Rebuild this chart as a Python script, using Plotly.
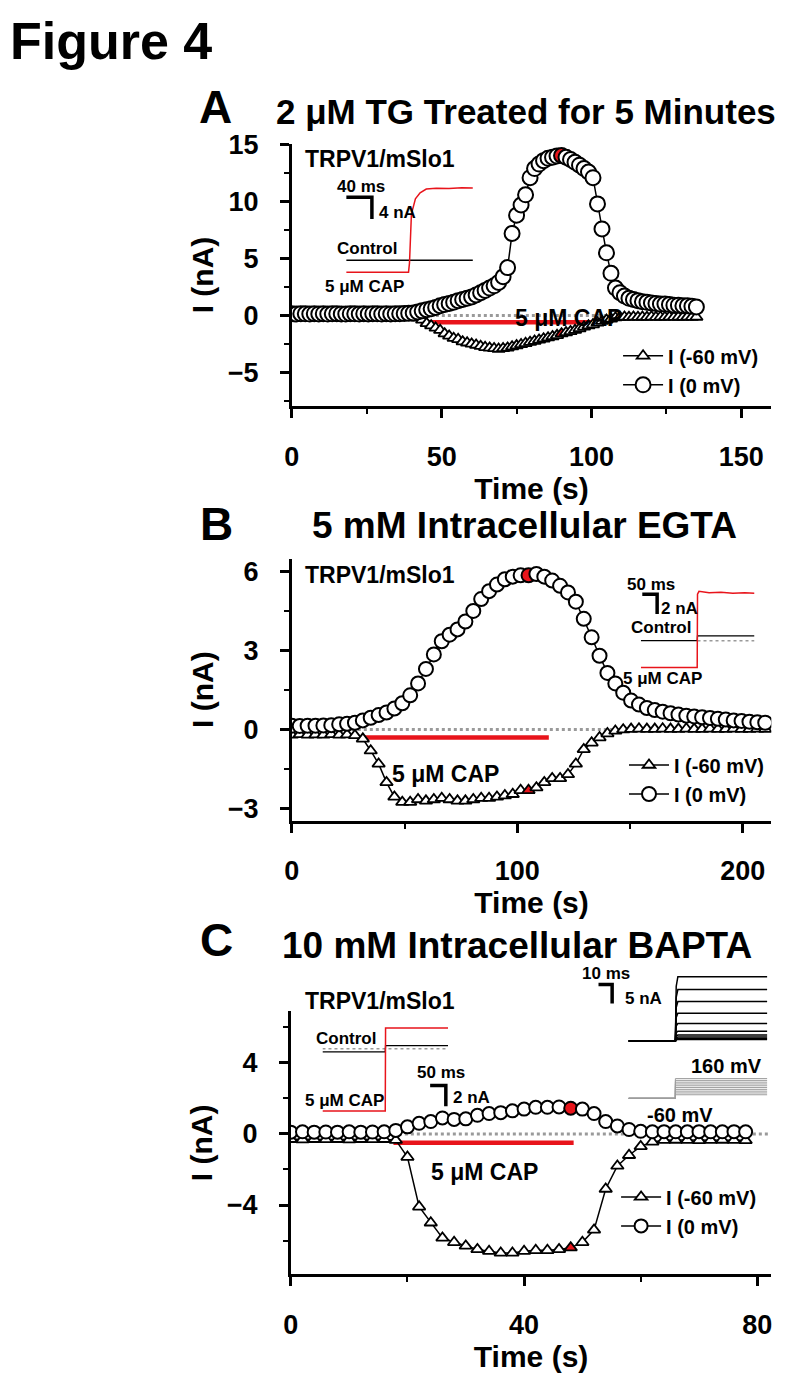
import plotly.graph_objects as go

W, H = 791, 1379
OFF = 8  # default page margin of the html body
FONT = "Liberation Sans, Arial, Helvetica, sans-serif"
RED = "#e8141b"
GRAY = "#9a9a9a"

# ---------------- Panel A : 2 uM TG treated for 5 minutes ----------------
A_T = [i * 1.5 for i in range(91)]
A_I0 = [0.15, 0.12, 0.15, 0.14, 0.12, 0.15, 0.13, 0.15, 0.12, 0.14, 0.15, 0.13, 0.12, 0.15,
        0.14, 0.12, 0.15, 0.13, 0.15, 0.14, 0.12, 0.15, 0.13, 0.14, 0.15, 0.16, 0.18,
        0.22, 0.3, 0.4, 0.5, 0.58, 0.7, 0.85, 0.95, 1.05, 1.15, 1.3, 1.4, 1.5, 1.62, 1.8,
        2.0, 2.2, 2.4, 2.6, 2.9, 3.4, 4.2, 7.2, 8.8, 9.7, 10.6, 12.1, 12.9, 13.3, 13.6,
        13.8, 13.9, 14.0, 14.05, 13.9, 13.7, 13.45, 13.2, 12.9, 12.6, 12.1, 9.8, 7.6, 5.5,
        3.7, 2.4, 2.0, 1.7, 1.5, 1.4, 1.3, 1.2, 1.15, 1.1, 1.05, 1.0, 1.0, 0.95, 0.9, 0.9,
        0.85, 0.85, 0.8, 0.75]
A_IN60 = [-0.15, -0.12, -0.15, -0.14, -0.15, -0.13, -0.15, -0.12, -0.15, -0.14, -0.15, -0.13,
          -0.15, -0.12, -0.15, -0.14, -0.15, -0.13, -0.15, -0.12, -0.15, -0.14, -0.15, -0.13,
          -0.15, -0.14, -0.15, -0.17,
          -0.22, -0.4, -0.7, -0.9, -1.1, -1.3, -1.6, -1.8, -2.0, -2.1, -2.3, -2.4, -2.5, -2.6,
          -2.7, -2.8, -2.85, -2.9, -2.95, -2.9, -2.85, -2.75, -2.65, -2.55, -2.45, -2.35, -2.25,
          -2.15, -2.05, -1.95, -1.85, -1.75, -1.6, -1.5, -1.4, -1.3, -1.15, -1.0, -0.9, -0.8,
          -0.65, -0.5, -0.4, -0.3, -0.2,
          -0.15, -0.14, -0.15, -0.13, -0.15, -0.14, -0.15, -0.12, -0.15, -0.14, -0.15, -0.13,
          -0.15, -0.14, -0.15, -0.13, -0.15, -0.14]
A_RED_INDEX = 60
A_CAP_T = [43, 103]
A_CAP_I = [-0.6, -0.6]
A_ZERO_T = [0, 136]

# inset A (time in ms, current in nA)
A_CTRL_T = [0, 197]
A_CTRL_I = [0, 0]
A_CAPTR_T = [0, 30, 60, 97, 98.5, 101.5, 107.7, 115, 124.6, 140, 160, 180, 197]
A_CAPTR_I = [-2.2, -2.15, -2.2, -2.2, -0.5, 8.5, 11.3, 12.4, 13.1, 13.25, 13.2, 13.35, 13.3]
A_BAR_T = [0, 40, 40]
A_BAR_I = [11.6, 11.6, 7.6]

# ---------------- Panel B : 5 mM intracellular EGTA ----------------
B_T = [i * 3.5 for i in range(61)]
B_I0 = [0.15, 0.14, 0.15, 0.15, 0.16, 0.17, 0.2, 0.22, 0.26, 0.35, 0.45, 0.55, 0.65, 0.8, 1.0,
        1.3, 1.75, 2.3, 2.85, 3.35, 3.6, 3.8, 4.1, 4.5, 4.95, 5.25, 5.5, 5.7, 5.8, 5.85, 5.85,
        5.9, 5.8, 5.65, 5.45, 5.2, 4.85, 4.2, 3.5, 2.8, 2.15, 1.75, 1.4, 1.1, 0.95, 0.82, 0.74,
        0.68, 0.62, 0.57, 0.53, 0.5, 0.47, 0.44, 0.41, 0.38, 0.35, 0.33, 0.3, 0.28, 0.26]
B_IN60 = [-0.2, -0.18, -0.2, -0.19, -0.2, -0.18, -0.2, -0.19, -0.22,
          -0.35, -0.8, -1.3, -2.0, -2.55, -2.75, -2.75, -2.65, -2.7, -2.65, -2.6, -2.65, -2.7,
          -2.7, -2.65, -2.6, -2.6, -2.55, -2.5, -2.45, -2.3, -2.3, -2.2, -2.0, -1.85, -1.85,
          -1.7, -1.3, -0.75, -0.5, -0.3, -0.15, -0.05, 0.0,
          0.02, 0.03, 0.02, 0.02, 0.03, 0.02, 0.02, 0.03, 0.02, 0.02, 0.03, 0.02, 0.02, 0.03,
          0.02, 0.02, 0.03, 0.02]
B_RED_INDEX = 30
B_CAP_T = [31, 114]
B_CAP_I = [-0.3, -0.3]
B_ZERO_T = [0, 212]

# inset B
B_CTRL_T = [0, 60, 120, 190, 191, 250, 320, 383]
B_CTRL_I = [0, 0.02, 0, 0, 0.5, 0.52, 0.48, 0.5]
B_CTRLDOT_T = [191, 383]
B_CTRLDOT_I = [0, 0]
B_CAPTR_T = [0, 190, 191, 196, 230, 270, 310, 350, 383]
B_CAPTR_I = [-2.7, -2.7, 4.7, 5.0, 4.85, 4.9, 4.8, 4.85, 4.8]
B_BAR_T = [5, 55, 55]
B_BAR_I = [4.7, 4.7, 2.7]

# ---------------- Panel C : 10 mM intracellular BAPTA ----------------
C_T = [i * 2 for i in range(40)]
C_I0 = [0.1, 0.12, 0.1, 0.11, 0.1, 0.12, 0.1, 0.11, 0.12,
        0.2, 0.4, 0.6, 0.7, 0.9, 0.82, 0.85, 1.05, 1.15, 1.2, 1.3, 1.4, 1.5, 1.5, 1.52, 1.45,
        1.4, 1.15, 0.7, 0.45, 0.25, 0.15,
        0.12, 0.13, 0.12, 0.12, 0.13, 0.12, 0.12, 0.13, 0.12]
C_IN60 = [-0.3, -0.32, -0.3, -0.31, -0.3, -0.32, -0.3, -0.31, -0.3,
          -0.35, -1.3, -4.1, -5.0, -5.85, -6.1, -6.3, -6.5, -6.6, -6.7, -6.7, -6.6, -6.55,
          -6.55, -6.5, -6.4, -6.1, -5.4, -3.1, -1.8, -1.2, -0.7, -0.45,
          -0.35, -0.34, -0.35, -0.36, -0.35, -0.34, -0.35, -0.36]
C_RED_INDEX = 24
C_CAP_T = [17.6, 48.5]
C_CAP_I = [-0.5, -0.5]
C_ZERO_T = [0, 82]

# inset C1
C_CTRL_T = [0, 200, 201, 400]
C_CTRL_I = [0, 0, 0.6, 0.6]
C_CTRLDOT_T = [0, 400]
C_CTRLDOT_I = [0.3, 0.3]
C_CAPTR_T = [0, 200, 201, 400]
C_CAPTR_I = [-5.7, -5.7, 2.3, 2.3]
C_BAR_T = [343, 393, 393]
C_BAR_I = [-3.24, -3.24, -5.24]

# inset C2: current family (nA) and voltage protocol (mV)
FAM_T = [22, 55.7, 56.3, 57.5, 122]
FAM_LEVELS = [17.1, 13.7, 10.5, 7.4, 4.7, 2.6, 1.6, 1.05, 0.66, 0.4]
FAM_BAR_T = [0, 10, 10]
FAM_BAR_I = [15, 15, 10]
PROT_T = [22, 55.7, 55.7, 122]
PROT_HOLD = -60
PROT_STEPS = [-20, 0, 20, 40, 60, 80, 100, 120, 140, 160]


def px(xp):
    return (xp - OFF) / W


def py(yp):
    return 1 - (yp - OFF) / H


fig = go.Figure()


def main_series(t, i0, in60, red_idx, xa, ya, leg, msize=14, tsize=11):
    tri_col = [RED if k == red_idx else "white" for k in range(len(t))]
    cir_col = [RED if k == red_idx else "white" for k in range(len(t))]
    fig.add_trace(go.Scatter(
        x=t, y=in60, mode="lines+markers", name="I (-60 mV)", legend=leg,
        xaxis=xa, yaxis=ya, line=dict(color="black", width=1.5),
        marker=dict(symbol="triangle-up", size=tsize, color=tri_col,
                    line=dict(color="black", width=1.8))))
    fig.add_trace(go.Scatter(
        x=t, y=i0, mode="lines+markers", name="I (0 mV)", legend=leg,
        xaxis=xa, yaxis=ya, line=dict(color="black", width=1.5),
        marker=dict(symbol="circle", size=msize, color=cir_col,
                    line=dict(color="black", width=2))))


def line_trace(x, y, xa, ya, color="black", width=1.5, dash=None):
    fig.add_trace(go.Scatter(x=x, y=y, mode="lines", showlegend=False, hoverinfo="skip",
                             xaxis=xa, yaxis=ya,
                             line=dict(color=color, width=width, dash=dash)))


# zero lines and CAP bars (drawn below markers)
for zt, xa, ya in [(A_ZERO_T, "x", "y"), (B_ZERO_T, "x2", "y2"), (C_ZERO_T, "x3", "y3")]:
    line_trace(zt, [0, 0], xa, ya, color=GRAY, width=3, dash="dot")
for ct, ci, xa, ya in [(A_CAP_T, A_CAP_I, "x", "y"), (B_CAP_T, B_CAP_I, "x2", "y2"),
                       (C_CAP_T, C_CAP_I, "x3", "y3")]:
    line_trace(ct, ci, xa, ya, color=RED, width=4.5)

main_series(A_T, A_I0, A_IN60, A_RED_INDEX, "x", "y", "legend", msize=15)
main_series(B_T, B_I0, B_IN60, B_RED_INDEX, "x2", "y2", "legend2", msize=14)
main_series(C_T, C_I0, C_IN60, C_RED_INDEX, "x3", "y3", "legend3", msize=13)

# inset A
line_trace(A_CTRL_T, A_CTRL_I, "x4", "y4", width=1.5)
line_trace(A_CAPTR_T, A_CAPTR_I, "x4", "y4", color=RED, width=1.5)
line_trace(A_BAR_T, A_BAR_I, "x4", "y4", width=3.5)
# inset B
line_trace(B_CTRLDOT_T, B_CTRLDOT_I, "x5", "y5", color=GRAY, width=1.5, dash="dot")
line_trace(B_CTRL_T, B_CTRL_I, "x5", "y5", width=1.3)
line_trace(B_CAPTR_T, B_CAPTR_I, "x5", "y5", color=RED, width=1.5)
line_trace(B_BAR_T, B_BAR_I, "x5", "y5", width=3.5)
# inset C1
line_trace(C_CTRLDOT_T, C_CTRLDOT_I, "x6", "y6", color=GRAY, width=1.5, dash="dot")
line_trace(C_CTRL_T, C_CTRL_I, "x6", "y6", width=1.3)
line_trace(C_CAPTR_T, C_CAPTR_I, "x6", "y6", color=RED, width=1.5)
line_trace(C_BAR_T, C_BAR_I, "x6", "y6", width=3.5)
# inset C2 current family
for lv in FAM_LEVELS:
    line_trace(FAM_T, [0, 0, lv * 0.85, lv, lv], "x7", "y7", width=1.5)
line_trace(FAM_BAR_T, FAM_BAR_I, "x7", "y7", width=3.5)
# inset C2 voltage protocol
for v in PROT_STEPS:
    line_trace(PROT_T, [PROT_HOLD, PROT_HOLD, v, v], "x8", "y8", color="#9d9d9d", width=1)

tick_font = dict(family=FONT, size=27, color="black", weight="bold")
title_font = dict(family=FONT, size=30, color="black", weight="bold")


def main_axes(xd, yd, xr, yr, xdt, xmin, ydt, ymin, yanchor_name, xanchor_name):
    common = dict(showline=True, linewidth=3, linecolor="black", ticks="outside",
                  ticklen=9, tickwidth=2.5, tickcolor="black", showgrid=False,
                  zeroline=False, tickfont=tick_font, fixedrange=True)
    xa = dict(common, domain=[px(xd[0]), px(xd[1])], range=xr, dtick=xdt, tick0=0,
              anchor=yanchor_name, ticklabelstandoff=15,
              minor=dict(dtick=xmin, tick0=0, ticklen=5, tickwidth=2, ticks="outside",
                         tickcolor="black", showgrid=False),
              title=dict(text="Time (s)", font=title_font, standoff=2))
    ya = dict(common, domain=[py(yd[1]), py(yd[0])], range=yr, dtick=ydt, tick0=0,
              anchor=xanchor_name, ticklabelstandoff=16,
              minor=dict(dtick=ymin, tick0=0, ticklen=5, tickwidth=2, ticks="outside",
                         tickcolor="black", showgrid=False),
              title=dict(text="I (nA)", font=title_font, standoff=6))
    return xa, ya


xa1, ya1 = main_axes((287, 772), (132, 398), [0, 160], [-8, 15.1], 50, 25, 5, 2.5, "y", "x")
xa2, ya2 = main_axes((287, 772), (552, 817), [0, 212.7], [-3.45, 6.48], 100, 50, 3, 1.5, "y2", "x2")
xa3, ya3 = main_axes((286, 772), (1010, 1276), [0, 82.4], [-7.9, 6.9], 40, 20, 4, 2, "y3", "x3")


def inset_axes(xd, yd, xr, yr, yname, xname):
    xa = dict(domain=[px(xd[0]), px(xd[1])], range=xr, visible=False, anchor=yname,
              fixedrange=True)
    ya = dict(domain=[py(yd[1]), py(yd[0])], range=yr, visible=False, anchor=xname,
              fixedrange=True)
    return xa, ya


xa4, ya4 = inset_axes((342, 472), (170, 270), [0, 200], [-3.64, 14.55], "y4", "x4")
xa5, ya5 = inset_axes((640, 755), (580, 668), [0, 383], [-3.3, 5.5], "y5", "x5")
xa6, ya6 = inset_axes((318, 445), (1020, 1118), [0, 400], [-6.38, 2.95], "y6", "x6")
xa7, ya7 = inset_axes((597, 770), (965, 1045), [0, 123.6], [-1.3, 19.7], "y7", "x7")
xa8, ya8 = inset_axes((597, 770), (1070, 1102), [0, 123.6], [-104, 248], "y8", "x8")

annotations = []


def txt(text, x, y, size, xanchor="center", yanchor="middle"):
    annotations.append(dict(text=text, x=px(x), y=py(y), xref="paper", yref="paper",
                            xanchor=xanchor, yanchor=yanchor, showarrow=False,
                            font=dict(family=FONT, size=size, color="black", weight="bold")))


txt("Figure 4", 0, 28, 52, xanchor="left")
txt("A", 210, 95, 46)
txt("2 μM TG Treated for 5 Minutes", 524, 100, 35)
txt("B", 211, 517, 46)
txt("5 mM Intracellular EGTA", 522, 518, 37)
txt("C", 211, 938, 46)
txt("10 mM Intracellular BAPTA", 515, 943, 37)

# panel A labels
txt("TRPV1/mSlo1", 298, 148, 23, xanchor="left")
txt("40 ms", 357, 175, 17)
txt("4 nA", 373, 202, 17, xanchor="left")
txt("Control", 363, 238, 17)
txt("5 μM CAP", 361, 277, 17)
txt("5 μM CAP", 567, 308, 23)
# panel B labels
txt("TRPV1/mSlo1", 298, 568, 23, xanchor="left")
txt("50 ms", 650, 578, 17)
txt("2 nA", 658, 602, 17, xanchor="left")
txt("Control", 660, 622, 17)
txt("5 μM CAP", 662, 673, 17)
txt("5 μM CAP", 442, 770, 23)
# panel C labels
txt("TRPV1/mSlo1", 298, 999, 23, xanchor="left")
txt("Control", 342, 1037, 17)
txt("5 μM CAP", 340, 1100, 17)
txt("50 ms", 438, 1072, 17)
txt("2 nA", 448, 1097, 17, xanchor="left")
txt("5 μM CAP", 482, 1173, 23)
txt("10 ms", 605, 972, 17)
txt("5 nA", 622, 997, 17, xanchor="left")
txt("160 mV", 727, 1065, 20)
txt("-60 mV", 680, 1115, 20)

leg_font = dict(family=FONT, size=20, color="black", weight="bold")


def legend_box(x, y):
    return dict(x=px(x), y=py(y), xanchor="left", yanchor="top", font=leg_font,
                bgcolor="rgba(0,0,0,0)", borderwidth=0, itemwidth=40, tracegroupgap=0)


fig.update_layout(
    width=W, height=H, margin=dict(l=0, r=0, t=0, b=0),
    paper_bgcolor="white", plot_bgcolor="rgba(0,0,0,0)",
    font=dict(family=FONT, color="black"),
    showlegend=True,
    xaxis=xa1, yaxis=ya1, xaxis2=xa2, yaxis2=ya2, xaxis3=xa3, yaxis3=ya3,
    xaxis4=xa4, yaxis4=ya4, xaxis5=xa5, yaxis5=ya5, xaxis6=xa6, yaxis6=ya6,
    xaxis7=xa7, yaxis7=ya7, xaxis8=xa8, yaxis8=ya8,
    legend=legend_box(617, 327),
    legend2=legend_box(623, 741),
    legend3=legend_box(615, 1178),
    annotations=annotations,
)

fig.write_html("out.html")
